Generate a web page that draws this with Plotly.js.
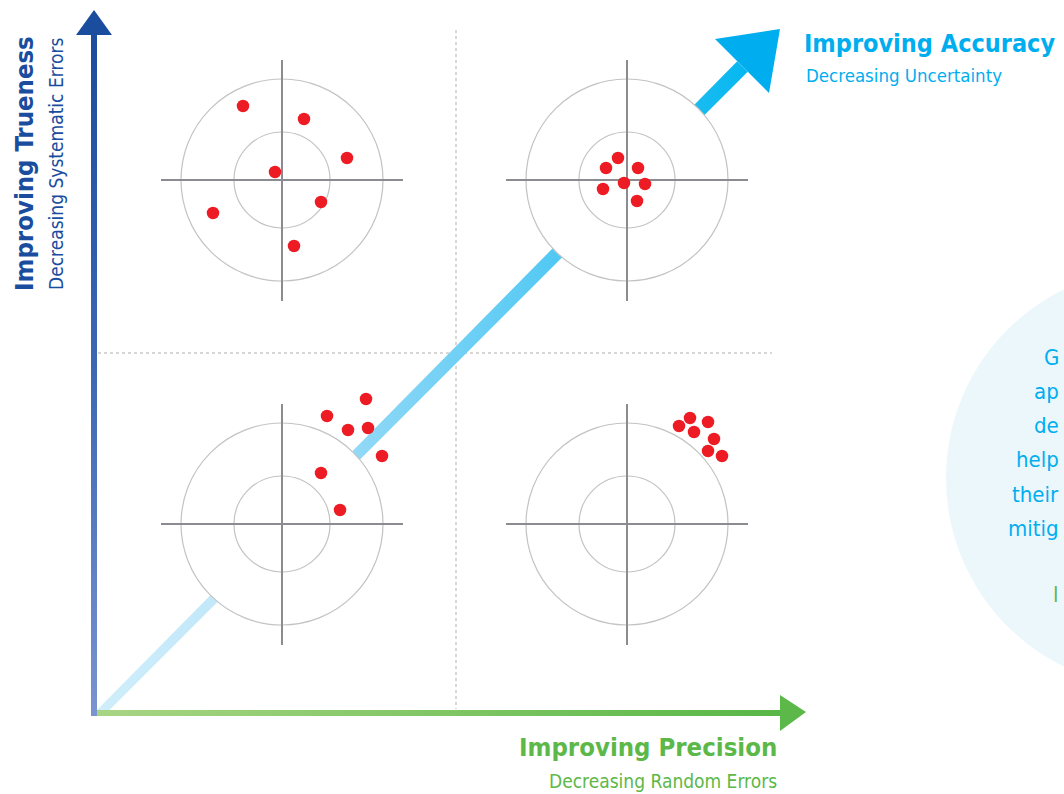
<!DOCTYPE html>
<html><head><meta charset="utf-8">
<script src="https://cdn.plot.ly/plotly-3.0.1.min.js"></script>
<style>html,body{margin:0;padding:0;overflow:hidden;background:#fff}</style>
</head><body><div id="chart" style="width:1064px;height:794px"></div>
<script>
// ---------- DATA: shot groups (offsets from target centre, target units; +dy = up) ----------
const targetNames = ['High trueness / low precision', 'High trueness / high precision',
                     'Low trueness / low precision', 'Low trueness / high precision'];
const hitsTLdx = [-39, 22, 65, -7, 39, -69, 12];
const hitsTLdy = [74, 61, 22, 8, -22, -33, -66];
const hitsTRdx = [-9, -21, 11, -3, 18, -24, 10];
const hitsTRdy = [22, 12, 12, -3, -4, -9, -21];
const hitsBLdx = [84, 45, 66, 86, 100, 39, 58];
const hitsBLdy = [125, 108, 94, 96, 68, 51, 14];
const hitsBRdx = [52, 63, 81, 67, 87, 81, 95];
const hitsBRdy = [98, 106, 102, 92, 85, 73, 68];
const axisTitles = ['Improving Trueness', 'Improving Precision', 'Improving Accuracy'];
const axisSubtitles = ['Decreasing Systematic Errors', 'Decreasing Random Errors', 'Decreasing Uncertainty'];
// side panel text as visible in the (cropped) reference
const sideLines = ['G', 'ap', 'de', 'help', 'their', 'mitig'];
const sideLink = 'l';

// ---------- LAYOUT GEOMETRY ----------
const W = 1064, H = 794;
const centers = [[282,180],[627,180],[282,524],[627,524]];
const hitsDx = [hitsTLdx, hitsTRdx, hitsBLdx, hitsBRdx];
const hitsDy = [hitsTLdy, hitsTRdy, hitsBLdy, hitsBRdy];
const OUTER = 202, INNER = 96, ARM = 121;
const ORX = 94, ORY = 713;           // origin of axes
const AX_W = 3;                       // half width of axis shafts
const FONT = '"DejaVu Sans Condensed", "DejaVu Sans", sans-serif';
const CYAN = '#00aeef', GREEN = '#5cb848', NAVY = '#1a4d9e';

const traces = [];
const none = {hoverinfo:'skip', showlegend:false};

// diagonal accuracy band (x + y = C, half-width K), visible part
const C = 809, K = 10.5;
const headBase = 676; // x - y along head base
const bx = [ORX+AX_W, ORX+AX_W, (headBase + C - K)/2, (headBase + C + K)/2, (C + K) - (ORY-AX_W), ORX+AX_W];
const by = [(C - K) - (ORX+AX_W), ORY-AX_W, (C - K - headBase)/2, (C + K - headBase)/2, ORY-AX_W, ORY-AX_W];
traces.push(Object.assign({x:bx, y:by, mode:'lines', fill:'toself', line:{width:0},
  fillgradient:{type:'horizontal', start:ORX, stop:760,
    colorscale:[[0,'#d0eefb'],[0.18,'#c2e8f9'],[0.45,'#84d5f6'],[0.65,'#5ccbf4'],[1,'#00b6ef']]}}, none));
// accuracy arrow head
traces.push(Object.assign({x:[715,780,769,715], y:[39,29,93,39], mode:'lines', fill:'toself',
  fillcolor:CYAN, line:{width:0}}, none));

// targets
traces.push(Object.assign({x:centers.map(c=>c[0]), y:centers.map(c=>c[1]), mode:'markers',
  marker:{size:OUTER, color:'#ffffff', line:{color:'#c3c3c3', width:1.2}}}, none));
traces.push(Object.assign({x:centers.map(c=>c[0]), y:centers.map(c=>c[1]), mode:'markers',
  marker:{size:INNER, color:'rgba(0,0,0,0)', line:{color:'#c3c3c3', width:1.2}}}, none));
const cx = [], cy = [];
centers.forEach(c=>{
  cx.push(c[0]-ARM, c[0]+ARM, null, c[0], c[0], null);
  cy.push(c[1], c[1], null, c[1]-ARM+1, c[1]+ARM, null);
});
traces.push(Object.assign({x:cx, y:cy, mode:'lines', line:{color:'#8b8b90', width:2}}, none));

// hits
centers.forEach((c,i)=>{
  traces.push(Object.assign({name:targetNames[i], x:hitsDx[i].map(d=>c[0]+d), y:hitsDy[i].map(d=>c[1]-d),
    mode:'markers', marker:{size:12.5, color:'#ed1c24'}}, none));
});

// trueness axis (vertical): dark at top, light at bottom
traces.push(Object.assign({x:[ORX-AX_W, ORX+AX_W, ORX+AX_W, ORX-AX_W, ORX-AX_W], y:[34, 34, ORY+AX_W, ORY+AX_W, 34],
  mode:'lines', fill:'toself', line:{width:0},
  fillgradient:{type:'vertical', colorscale:[[0,'#7a94d0'],[0.5,'#3d68b4'],[1,'#1c4c9c']]}}, none));
traces.push(Object.assign({x:[76, ORX, 112, 76], y:[35, 10, 35, 35], mode:'lines', fill:'toself',
  fillcolor:NAVY, line:{width:0}}, none));
// precision axis (horizontal)
traces.push(Object.assign({x:[ORX+AX_W, 782, 782, ORX+AX_W, ORX+AX_W], y:[ORY-AX_W, ORY-AX_W, ORY+AX_W, ORY+AX_W, ORY-AX_W],
  mode:'lines', fill:'toself', line:{width:0},
  fillgradient:{type:'horizontal', colorscale:[[0,'#a8d584'],[1,'#58b746']]}}, none));
traces.push(Object.assign({x:[780, 806, 780, 780], y:[695, ORY-1, 731, 695], mode:'lines', fill:'toself',
  fillcolor:GREEN, line:{width:0}}, none));

const shapes = [
  {type:'circle', xref:'x', yref:'y', x0:1156-210, x1:1156+210, y0:478-210, y1:478+210,
   fillcolor:'#ecf7fc', line:{width:0}, layer:'below'},
  {type:'line', xref:'x', yref:'y', x0:456, x1:456, y0:30, y1:709, line:{color:'#cacaca', width:1.5, dash:'dot'}, layer:'below'},
  {type:'line', xref:'x', yref:'y', x0:98, x1:772, y0:353, y1:353, line:{color:'#cacaca', width:1.5, dash:'dot'}, layer:'below'}
];

const ann = (o)=>Object.assign({xref:'x', yref:'y', showarrow:false}, o);
const annotations = [
  ann({text:'<b>'+axisTitles[2]+'</b>', x:802, y:43, xanchor:'left', yanchor:'middle', font:{family:FONT, size:25, color:CYAN}}),
  ann({text:axisSubtitles[2], x:804, y:75, xanchor:'left', yanchor:'middle', font:{family:FONT, size:18.5, color:CYAN}}),
  ann({text:'<b>'+axisTitles[1]+'</b>', x:779, y:747, xanchor:'right', yanchor:'middle', font:{family:FONT, size:25.5, color:GREEN}}),
  ann({text:axisSubtitles[1], x:779, y:781, xanchor:'right', yanchor:'middle', font:{family:FONT, size:19, color:GREEN}}),
  ann({text:'<b>'+axisTitles[0]+'</b>', x:24, y:164, textangle:-90, xanchor:'center', yanchor:'middle', font:{family:FONT, size:25.5, color:NAVY}}),
  ann({text:axisSubtitles[0], x:56, y:164, textangle:-90, xanchor:'center', yanchor:'middle', font:{family:FONT, size:19, color:NAVY}})
];
sideLines.forEach((t,i)=>{
  annotations.push(ann({text:t, x:1061, y:357 + i*34.3, xanchor:'right', yanchor:'middle', font:{family:FONT, size:22, color:CYAN}}));
});
annotations.push(ann({text:sideLink, x:1061, y:594, xanchor:'right', yanchor:'middle', font:{family:FONT, size:22, color:GREEN}}));

const layout = {
  width:W, height:H, autosize:false, margin:{l:0,r:0,t:0,b:0,pad:0},
  paper_bgcolor:'#ffffff', plot_bgcolor:'rgba(0,0,0,0)', showlegend:false,
  xaxis:{range:[0,W], visible:false, fixedrange:true},
  yaxis:{range:[H,0], visible:false, fixedrange:true},
  shapes:shapes, annotations:annotations
};
Plotly.newPlot('chart', traces, layout, {staticPlot:true, displayModeBar:false});
</script></body></html>
